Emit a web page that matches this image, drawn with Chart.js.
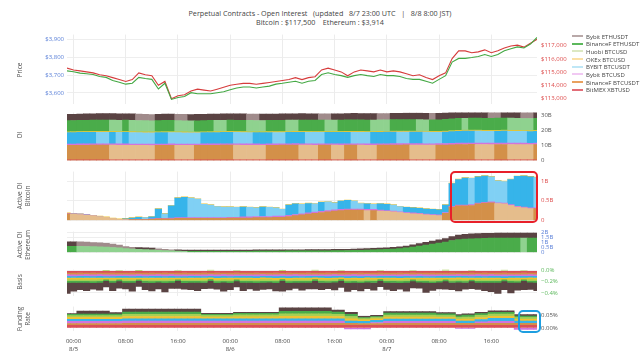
<!DOCTYPE html>
<html><head><meta charset="utf-8">
<script src="https://cdn.jsdelivr.net/npm/chart.js@4.4.1/dist/chart.umd.min.js"></script>
<style>
html,body{margin:0;padding:0;background:#fff;}
body{width:640px;height:360px;position:relative;overflow:hidden;font-family:"Open Sans",sans-serif;color:#444;}
canvas{position:absolute;left:0;}
#title{position:absolute;left:0;top:8.5px;width:640px;text-align:center;font-size:7.2px;line-height:9.3px;white-space:pre;color:#444;}
.yt{position:absolute;transform:translate(-50%,-50%) rotate(-90deg);font-size:6.5px;line-height:8px;text-align:center;white-space:nowrap;color:#555;}
.lg{position:absolute;left:572px;font-size:6px;line-height:7px;height:7px;white-space:nowrap;color:#444;}
.lg i{display:inline-block;width:11px;height:2px;vertical-align:middle;margin-right:3px;position:relative;top:-1px;}
.box{position:absolute;box-sizing:border-box;border-radius:5px;}
</style></head><body>
<div id="title">Perpetual Contracts - Open Interest   (updated   8/7 23:00 UTC   |   8/8 8:00 JST)
Bitcoin : $117,500    Ethereum : $3,914</div>
<canvas id="cPrice"></canvas>
<canvas id="cOI"></canvas>
<canvas id="cAB"></canvas>
<canvas id="cAE"></canvas>
<canvas id="cBasis"></canvas>
<canvas id="cFund"></canvas>
<div class="yt" style="left:20px;top:70px">Price</div>
<div class="yt" style="left:20px;top:135px">OI</div>
<div class="yt" style="left:24px;top:196px">Active OI<br>Bitcoin</div>
<div class="yt" style="left:24px;top:245px">Active OI<br>Ethereum</div>
<div class="yt" style="left:20px;top:282px">Basis</div>
<div class="yt" style="left:24px;top:319px">Funding<br>Rate</div>
<div id="legend"></div>
<div class="box" style="left:450px;top:170.5px;width:88px;height:52px;border:2px solid #e8202a"></div>
<div class="box" style="left:518px;top:309.5px;width:23px;height:23px;border:2px solid #1e9ee0"></div>
<script>
// ---- categories: hours from 8/5 00:00 UTC (8/4 23:00 .. 8/7 23:00) ----
const hours = Array.from({length:73},(_,i)=>i-1);
const xTickHours = [0,8,16,24,32,40,48,56,64];
const dayLabels = ['8/5','8/6','8/7'];

const seriesNames = ['Bybit ETHUSDT','BinanceF ETHUSDT','Huobi BTCUSD','OKEx BTCUSD','BYBIT BTCUSDT','Bybit BTCUSD','BinanceF BTCUSDT','BitMEX XBTUSD'];

// ---- price ----
const btcPrice = [
115300,115160,115090,115015,114940,114800,114720,114580,114430,114290,
114430,114940,114800,114720,114000,114290,112980,113200,113270,113560,
113700,113630,113560,113700,113850,114000,114070,114140,114140,114070,
114140,114210,114290,114360,114430,114580,114430,114580,114650,115160,
115300,115160,115015,114720,115015,115160,115090,115015,115160,115015,
115090,115015,114870,114720,114800,114580,114430,114720,114940,116030,
116615,116615,116470,116540,116690,116470,116615,116830,116980,117050,
116900,117200,117490];
const ethPrice = [
3724,3719,3711,3708,3703,3692,3687,3670,3660,3649,
3654,3687,3681,3676,3622,3654,3563,3574,3579,3601,
3595,3595,3595,3601,3606,3617,3627,3633,3633,3627,
3633,3638,3649,3654,3660,3665,3654,3665,3670,3703,
3713,3703,3697,3687,3697,3703,3697,3692,3703,3697,
3697,3692,3681,3676,3676,3665,3654,3676,3697,3773,
3794,3794,3799,3805,3816,3805,3816,3837,3848,3859,
3853,3875,3912];
const ethPriceTicks = [3600,3700,3800,3900];
const btcPriceTicks = [113000,114000,115000,116000,117000];

// ---- open interest (B USD) ----
const oiBitmex = [
0.20,0.20,0.20,0.20,0.20,0.20,0.20,0.20,0.20,0.20,
0.20,0.20,0.20,0.20,0.20,0.20,0.20,0.20,0.20,0.20,
0.20,0.20,0.20,0.20,0.20,0.20,0.20,0.20,0.20,0.20,
0.20,0.20,0.20,0.20,0.20,0.20,0.20,0.20,0.20,0.20,
0.20,0.20,0.20,0.20,0.20,0.20,0.20,0.20,0.20,0.20,
0.20,0.20,0.20,0.20,0.20,0.20,0.20,0.20,0.20,0.20,
0.20,0.20,0.20,0.20,0.20,0.20,0.20,0.20,0.20,0.20,
0.20,0.20,0.20];
const oiBinanceBtc = [
9.80,9.84,9.88,9.91,9.95,9.98,10.02,9.98,9.93,9.90,
9.86,9.83,9.80,9.76,9.80,9.85,9.90,9.86,9.82,9.79,
9.83,9.87,9.90,9.94,9.97,10.01,9.97,9.94,9.90,9.87,
9.83,9.87,9.91,9.95,9.98,10.02,9.99,9.95,9.92,9.96,
10.00,9.97,9.93,9.97,10.01,9.98,9.94,9.91,9.95,9.99,
10.03,10.07,10.11,10.07,10.03,10.00,9.96,10.00,10.10,10.25,
10.35,10.42,10.48,10.44,10.40,10.36,10.40,10.44,10.40,10.36,
10.32,10.28,10.32];
const oiBybitUsd = [
0.90,0.90,0.91,0.91,0.92,0.92,0.91,0.91,0.90,0.90,
0.89,0.89,0.88,0.89,0.90,0.90,0.89,0.88,0.88,0.89,
0.90,0.91,0.91,0.92,0.92,0.91,0.90,0.90,0.91,0.91,
0.92,0.92,0.91,0.91,0.92,0.93,0.92,0.92,0.93,0.93,
0.92,0.91,0.91,0.92,0.93,0.92,0.92,0.93,0.93,0.94,
0.94,0.93,0.93,0.92,0.92,0.93,0.94,0.95,0.96,0.96,
0.97,0.97,0.96,0.96,0.95,0.96,0.97,0.96,0.95,0.95,
0.96,0.96,0.96];
const oiBybitUsdt = [
7.60,7.63,7.66,7.69,7.72,7.69,7.66,7.69,7.66,7.69,
7.66,7.63,7.60,7.57,7.60,7.63,7.60,7.57,7.54,7.51,
7.48,7.51,7.54,7.57,7.60,7.63,7.60,7.57,7.54,7.57,
7.60,7.63,7.60,7.57,7.60,7.63,7.66,7.63,7.60,7.57,
7.60,7.63,7.66,7.69,7.66,7.63,7.60,7.63,7.66,7.69,
7.72,7.69,7.66,7.69,7.72,7.69,7.66,7.63,7.70,7.80,
7.88,7.92,7.96,7.93,7.90,7.87,7.90,7.93,7.90,7.87,
7.84,7.87,7.90];
const oiOkex = [
0.40,0.40,0.41,0.41,0.41,0.40,0.40,0.40,0.39,0.39,
0.39,0.39,0.40,0.40,0.40,0.40,0.39,0.39,0.39,0.40,
0.40,0.40,0.41,0.41,0.41,0.41,0.40,0.40,0.40,0.40,
0.41,0.41,0.41,0.41,0.41,0.42,0.42,0.42,0.42,0.42,
0.42,0.42,0.42,0.42,0.43,0.43,0.43,0.43,0.43,0.43,
0.43,0.43,0.43,0.43,0.43,0.43,0.43,0.43,0.44,0.44,
0.44,0.45,0.45,0.45,0.45,0.45,0.45,0.45,0.45,0.45,
0.45,0.45,0.45];
const oiHuobi = [
0.20,0.20,0.20,0.20,0.20,0.20,0.20,0.20,0.20,0.20,
0.20,0.20,0.20,0.20,0.20,0.20,0.20,0.20,0.20,0.20,
0.20,0.20,0.20,0.20,0.20,0.20,0.20,0.20,0.20,0.20,
0.20,0.20,0.20,0.20,0.20,0.20,0.20,0.20,0.20,0.20,
0.20,0.20,0.20,0.20,0.20,0.20,0.20,0.20,0.20,0.20,
0.20,0.20,0.20,0.20,0.20,0.20,0.20,0.20,0.20,0.20,
0.20,0.20,0.20,0.20,0.20,0.20,0.20,0.20,0.20,0.20,
0.20,0.20,0.20];
const oiBinanceEth = [
7.40,7.43,7.46,7.49,7.52,7.55,7.58,7.55,7.52,7.55,
7.52,7.49,7.46,7.43,7.46,7.49,7.52,7.49,7.46,7.43,
7.46,7.49,7.52,7.49,7.46,7.49,7.52,7.55,7.52,7.49,
7.46,7.49,7.52,7.55,7.52,7.49,7.52,7.55,7.58,7.61,
7.58,7.55,7.58,7.61,7.64,7.67,7.70,7.67,7.64,7.61,
7.64,7.67,7.70,7.73,7.70,7.67,7.70,7.73,7.80,7.90,
7.96,7.93,7.96,7.99,8.02,8.05,8.08,8.11,8.08,8.05,
8.02,7.99,8.02];
const oiBybitEth = [
4.20,4.21,4.22,4.23,4.24,4.25,4.26,4.27,4.28,4.29,
4.30,4.27,4.24,4.21,4.22,4.23,4.24,4.21,4.18,4.19,
4.20,4.21,4.22,4.23,4.24,4.25,4.26,4.27,4.24,4.21,
4.22,4.23,4.24,4.25,4.26,4.27,4.28,4.29,4.30,4.27,
4.24,4.25,4.26,4.27,4.28,4.29,4.30,4.31,4.28,4.25,
4.26,4.27,4.28,4.29,4.30,4.31,4.28,4.29,4.32,4.36,
4.40,4.42,4.44,4.46,4.48,4.45,4.42,4.44,4.46,4.48,
4.45,4.42,4.44];
const oiTicks = [0,10,20,30];

// ---- active OI bitcoin (B USD) ----
const actBinanceBtc = [
.17,.16,.15,.13,.12,.10,.08,.05,.03,.02,
.02,.02,.02,.03,.04,.04,.04,.05,.05,.05,
.05,.05,.05,.05,.05,.06,.06,.06,.06,.07,
.07,.07,.08,.08,.10,.12,.14,.16,.18,.20,
.22,.24,.25,.26,.26,.26,.25,.25,.24,.23,
.22,.20,.18,.17,.16,.14,.13,.12,.18,.34,
.37,.37,.38,.42,.44,.45,.43,.42,.38,.34,
.32,.30,.30];
const actBybitUsd = [
.01,.01,.01,.01,.00,.00,.00,.00,.00,.00,
.00,.01,.01,.01,.01,.01,.02,.02,.02,.02,
.02,.02,.02,.02,.02,.02,.02,.03,.03,.03,
.03,.03,.03,.03,.03,.03,.03,.03,.03,.03,
.03,.03,.03,.03,.03,.03,.03,.03,.02,.02,
.02,.02,.02,.02,.02,.02,.02,.02,.02,.02,
.02,.02,.02,.02,.02,.02,.02,.02,.02,.02,
.02,.02,.02];
const actBybitUsdt = [
.00,.00,.00,.00,.00,.00,.00,.00,.00,.02,
.04,.05,.04,.05,.24,.12,.31,.50,.52,.50,
.47,.34,.32,.28,.27,.26,.25,.25,.24,.22,
.24,.23,.21,.17,.26,.27,.24,.24,.21,.23,
.22,.18,.21,.22,.20,.14,.14,.13,.16,.16,
.15,.13,.13,.13,.13,.13,.13,.13,.19,.58,
.65,.69,.67,.67,.67,.64,.56,.55,.64,.76,
.79,.79,.77];
const actOkex = [
.01,.01,.01,.01,.01,.01,.01,.01,.01,.01,
.01,.01,.01,.01,.01,.01,.01,.01,.01,.01,
.01,.01,.01,.01,.01,.01,.01,.01,.01,.01,
.01,.01,.01,.01,.01,.01,.01,.01,.01,.01,
.01,.01,.01,.01,.01,.01,.01,.01,.01,.01,
.01,.01,.01,.01,.01,.01,.01,.01,.01,.01,
.01,.01,.01,.01,.01,.01,.01,.01,.01,.01,
.01,.01,.01];
const actBtcTicks = [0,0.5,1];

// ---- active OI ethereum (B USD) ----
const actBinanceEth = [
.62,.62,.61,.60,.58,.56,.54,.50,.45,.38,
.33,.30,.28,.25,.22,.18,.15,.13,.12,.12,
.12,.12,.12,.12,.12,.12,.12,.12,.12,.13,
.13,.14,.14,.14,.15,.15,.15,.16,.16,.17,
.17,.18,.18,.19,.20,.22,.24,.26,.28,.30,
.33,.38,.45,.55,.65,.75,.85,.95,1.05,1.20,
1.30,1.35,1.38,1.40,1.42,1.44,1.45,1.45,1.46,1.46,
1.45,1.45,1.46];
const actBybitEth = [
.46,.46,.45,.44,.42,.40,.38,.35,.30,.20,
.18,.18,.18,.18,.15,.14,.12,.12,.12,.12,
.12,.12,.12,.12,.12,.12,.12,.12,.12,.12,
.12,.12,.12,.12,.12,.12,.12,.12,.12,.12,
.12,.13,.13,.13,.14,.14,.15,.15,.16,.17,
.18,.19,.20,.22,.25,.28,.30,.33,.36,.40,
.45,.48,.50,.50,.50,.50,.50,.50,.50,.50,
.50,.50,.50];
const actEthTicks = [0,0.5,1,1.5,2];

// ---- basis (%) ----
const basisBitmex = [
-.030,-.029,-.031,-.030,-.032,-.029,-.030,-.031,-.030,-.029,
-.031,-.030,-.029,-.032,-.030,-.031,-.029,-.030,-.031,-.030,
-.029,-.031,-.030,-.032,-.029,-.030,-.031,-.030,-.029,-.031,
-.030,-.029,-.032,-.030,-.031,-.029,-.030,-.031,-.030,-.029,
-.031,-.030,-.029,-.032,-.030,-.031,-.029,-.030,-.031,-.030,
-.029,-.031,-.030,-.032,-.029,-.030,-.031,-.030,-.029,-.031,
-.030,-.029,-.032,-.030,-.031,-.029,-.030,-.031,-.030,-.029,
-.031,-.030,-.029];
const basisBinanceBtc = [
-.029,-.031,-.030,-.029,-.031,-.030,-.032,-.029,-.030,-.031,
-.030,-.029,-.031,-.030,-.029,-.032,-.030,-.031,-.029,-.030,
-.031,-.030,-.029,-.031,-.030,-.032,-.029,-.030,-.031,-.030,
-.029,-.031,-.030,-.029,-.032,-.030,-.031,-.029,-.030,-.031,
-.030,-.029,-.031,-.030,-.029,-.032,-.030,-.031,-.029,-.030,
-.031,-.030,-.029,-.031,-.030,-.032,-.029,-.030,-.031,-.030,
-.029,-.031,-.030,-.029,-.032,-.030,-.031,-.029,-.030,-.031,
-.030,-.029,-.031];
const basisBybitUsd = [
-.030,-.032,-.029,-.031,-.030,-.029,-.031,-.032,-.030,-.029,
-.031,-.030,-.032,-.029,-.031,-.030,-.029,-.031,-.032,-.030,
-.029,-.031,-.030,-.032,-.029,-.031,-.030,-.029,-.031,-.032,
-.030,-.029,-.031,-.030,-.032,-.029,-.031,-.030,-.029,-.031,
-.032,-.030,-.029,-.031,-.030,-.032,-.029,-.031,-.030,-.029,
-.031,-.032,-.030,-.029,-.031,-.030,-.032,-.029,-.031,-.030,
-.029,-.031,-.032,-.030,-.029,-.031,-.030,-.032,-.029,-.031,
-.030,-.029,-.031];
const basisBybitUsdt = [
-.031,-.030,-.029,-.032,-.030,-.031,-.029,-.030,-.031,-.030,
-.029,-.032,-.030,-.031,-.029,-.030,-.031,-.030,-.029,-.032,
-.030,-.031,-.029,-.030,-.031,-.030,-.029,-.032,-.030,-.031,
-.029,-.030,-.031,-.030,-.029,-.032,-.030,-.031,-.029,-.030,
-.031,-.030,-.029,-.032,-.030,-.031,-.029,-.030,-.031,-.030,
-.029,-.032,-.030,-.031,-.029,-.030,-.031,-.030,-.029,-.032,
-.030,-.031,-.029,-.030,-.031,-.030,-.029,-.032,-.030,-.031,
-.029,-.030,-.031];
const basisOkex = [
-.030,-.031,-.032,-.029,-.030,-.031,-.030,-.029,-.032,-.030,
-.031,-.030,-.029,-.031,-.032,-.030,-.029,-.031,-.030,-.029,
-.032,-.030,-.031,-.030,-.029,-.031,-.032,-.030,-.029,-.031,
-.030,-.029,-.032,-.030,-.031,-.030,-.029,-.031,-.032,-.030,
-.029,-.031,-.030,-.029,-.032,-.030,-.031,-.030,-.029,-.031,
-.032,-.030,-.029,-.031,-.030,-.029,-.032,-.030,-.031,-.030,
-.029,-.031,-.032,-.030,-.029,-.031,-.030,-.029,-.032,-.030,
-.031,-.030,-.029];
const basisHuobi = [
-.030,-.029,-.031,-.030,-.032,-.029,.008,-.030,.010,-.031,
-.029,.008,-.030,-.031,-.029,-.030,-.032,.010,-.031,-.030,
-.029,-.031,.012,-.029,-.030,-.031,.010,-.030,-.029,-.031,
-.032,-.030,-.029,.008,-.030,-.031,-.029,-.030,.012,-.031,
-.030,-.029,.010,-.031,-.030,-.032,-.029,-.030,.010,-.031,
-.029,-.030,-.031,.010,-.029,-.030,-.032,-.031,.015,-.030,
-.029,-.031,.010,-.030,-.029,-.031,-.030,.012,-.029,-.031,
.010,-.030,-.029];
const basisBinanceEth = [
-.031,-.030,-.029,-.031,-.030,-.032,-.029,-.030,-.031,-.030,
-.029,-.031,-.032,-.030,-.029,-.031,-.030,-.029,-.032,-.030,
-.031,-.029,-.030,-.031,-.030,-.029,-.032,-.030,-.031,-.029,
-.030,-.031,-.030,-.029,-.032,-.030,-.031,-.029,-.030,-.031,
-.030,-.029,-.032,-.030,-.031,-.029,-.030,-.031,-.030,-.029,
-.032,-.030,-.031,-.029,-.030,-.031,-.030,-.029,-.032,-.030,
-.031,-.029,-.030,-.031,-.030,-.029,-.032,-.030,-.031,-.029,
-.030,-.031,-.030];
const basisBybitEth = [
-.20,-.16,-.13,-.15,-.12,-.14,-.11,-.15,-.13,-.12,
-.16,-.10,-.13,-.15,-.12,-.17,-.11,-.14,-.12,-.13,
-.15,-.11,-.14,-.12,-.16,-.13,-.11,-.15,-.12,-.14,
-.13,-.12,-.15,-.19,-.13,-.11,-.14,-.12,-.15,-.13,
-.11,-.14,-.12,-.16,-.13,-.15,-.12,-.14,-.11,-.13,
-.15,-.12,-.16,-.13,-.11,-.18,-.14,-.12,-.15,-.13,
-.16,-.12,-.14,-.13,-.15,-.17,-.20,-.16,-.19,-.14,
-.16,-.13,-.15];
const basisTicks = [0,-0.2,-0.4];

// ---- funding rate (%) ----
const fundBitmex = [
.010,.010, .010,.010,.010,.010,.010, .010,.010,
.010,.010,.010,.010,.010,.010,.010,.010,.010,.010,.010,.010,
.010,.010,.010,.010,.010, .010,.010,.010,.010,.010,.010,.010,
.010,.010,.010,.010,.010,.010,.010,.010, .010,.010,.010,.010,
.010,.010,.010,.010, .010,.010,.010,.010,.010,.010,.010,.010,
.010,.010,.010,.010, .010,.010,.010,.010, .010,.010,.010,.010,
.010,.010,.010,.010];
const fundBinanceBtc = [
.0075,.0075, .0075,.0075,.0075,.0075,.0075, .0075,.0075,
.0085,.0085,.0085,.0085,.0085,.0085,.0085,.0085,.0085,.0085,.0085,.0085,
.0085,.0085,.0085,.0085,.0085, .0085,.0085,.0085,.0085,.0085,.0085,.0085,
.0085,.0085,.0085,.0085,.0085,.0085,.0085,.0085, .0085,.0085,.0085,.0085,
.0075,.0075,.0075,.0075, .0085,.0085,.0085,.0085,.0085,.0085,.0085,.0085,
.0085,.0085,.0085,.0085, .0085,.0085,.0085,.0085, .0085,.0085,.0085,.0085,
.0085,.0085,.0085,.0085];
const fundBybitUsd = [
.0085,.0085, .0085,.0085,.0085,.0085,.0085, .0085,.0085,
.009,.009,.009,.009,.009,.009,.009,.009,.009,.009,.009,.009,
.009,.009,.009,.009,.009, .009,.009,.009,.009,.009,.009,.009,
.009,.009,.009,.009,.009,.009,.009,.009, .009,.009,-.004,-.004,
-.004,-.004,.004,.004, .008,.008,.008,.008,.008,.008,.008,.008,
.008,.008,.008,-.002, -.002,-.002,.006,.006, .008,.008,.008,.008,
-.006,-.006,-.006,-.006];
const fundBybitUsdt = [
.008,.008, .008,.008,.008,.008,.008, .008,.008,
.0087,.0087,.0087,.0087,.0087,.0087,.0087,.0087,.0087,.0087,.0087,.0087,
.0087,.0087,.0087,.0087,.0087, .0087,.0087,.0087,.0087,.0087,.0087,.0087,
.0087,.0087,.0087,.0087,.0087,.0087,.0087,.0087, .0087,.0087,.0087,.0087,
.0087,.0087,.0087,.0087, .0087,.0087,.0087,.0087,.0087,.0087,.0087,.0087,
.0087,.0087,.0087,.0087, .009,.009,.009,.009, .012,.012,.012,.012,
.0087,.0087,.0087,.0087];
const fundOkex = [
.008,.008, .008,.008,.008,.008,.008, .008,.008,
.009,.009,.009,.009,.009,.009,.009,.009,.009,.009,.009,.009,
.007,.007,.007,.007,.007, .008,.008,.008,.008,.008,.008,.008,
.010,.010,.010,.010,.010,.010,.010,.010, .009,.009,.009,.009,
.006,.006,.006,.006, .008,.008,.008,.008,.008,.008,.008,.008,
.007,.007,.007,.007, .008,.008,.008,.008, .008,.008,.008,.008,
.007,.007,.007,.007];
const fundHuobi = [
.007,.007, .007,.007,.007,.007,.007, .007,.007,
.009,.009,.009,.009,.009,.009,.009,.009,.009,.009,.009,.009,
.006,.006,.006,.006,.006, .008,.008,.008,.008,.008,.008,.008,
.010,.010,.010,.010,.010,.010,.010,.010, .009,.009,.009,.009,
.005,.005,.005,.005, .008,.008,.008,.008,.008,.008,.008,.008,
.007,.007,.007,.007, .008,.008,.008,.008, .008,.008,.008,.008,
.007,.007,.007,.007];
const fundBinanceEth = [
.005,.005, .006,.006,.006,.006,.006, .006,.006,
.009,.009,.009,.009,.009,.009,.009,.009,.009,.009,.009,.009,
.005,.005,.005,.005,.005, .006,.006,.006,.006,.006,.006,.006,
.010,.010,.010,.010,.010,.010,.010,.010, .009,.009,.009,.009,
.004,.004,.004,.004, .008,.008,.008,.008,.008,.008,.008,.008,
.007,.007,.007,.007, .007,.007,.007,.007, .007,.007,.007,.007,
.006,.006,.006,.006];
const fundBybitEth = [
.003,.003, .012,.012,.012,.012,.012, .006,.006,
.012,.012,.012,.012,.012,.012,.012,.012,.012,.012,.012,.012,
.004,.004,.004,.004,.004, .004,.004,.004,.004,.004,.004,.004,
.014,.014,.014,.014,.014,.014,.014,.014, .008,.008,.008,.008,
.005,.005,.005,.005, .006,.006,.006,.006,.006,.006,.006,.006,
.005,.005,.005,.005, .005,.005,.005,.005, .006,.006,.006,.006,
.006,.006,.006,.006];
const fundTicks = [0,0.05];

// ---------------- drawing ----------------
const FONT = '"Open Sans", sans-serif';
const PLOT_L = 67, RIGHT_W = 103;
const C = {
  bybitEth:['#5a4343','#a08b8b'], binanceEth:['#4aac4a','#8fd28f'], huobi:['#a6cf55','#c9e29a'],
  okex:['#f0c233','#f6d87a'], bybitUsdt:['#36b4ea','#80d0f4'], bybitUsd:['#d274dc','#e6a8ec'],
  binanceBtc:['#d39049','#e5bd8c'], bitmex:['#db4f57','#e98a90']
};
const legendColors = ['#b9a9a9','#5cb85c','#dce8c2','#fbe0a6','#bfe7f6','#f1c9f3','#e9a15f','#e26d78'];

function pts(arr){ return hours.map((h,i)=>({x:h,y:arr[i]})); }
function shade(arr, col){ return ctx => { const i = ctx.dataIndex; return (i>0 && arr[i] < arr[i-1]) ? col[1] : col[0]; }; }
function barDs(label, arr, col, shaded){
  return {type:'bar', label, data:pts(arr), backgroundColor: shaded ? shade(arr,col) : col[0],
          borderWidth:0, barPercentage:1, categoryPercentage:1};
}
function yAxis(pos, min, max, ticks, color, fmt, grid){
  return {position:pos, min, max, stacked:true,
    afterFit: a => { a.width = pos==='left' ? PLOT_L : RIGHT_W; },
    afterBuildTicks: a => { a.ticks = ticks.map(v=>({value:v})); },
    ticks:{autoSkip:false, color, padding: pos==='left'?3:4, font:{size:6, family:FONT}, callback:fmt},
    grid:{display:grid!==false, color:'#eeeeee', drawTicks:false}, border:{display:false}};
}
function xAxis(showTicks){
  return {type:'linear', min:-1, max:71, offset:false, stacked:true,
    afterBuildTicks: a => { a.ticks = xTickHours.map(v=>({value:v})); },
    afterFit: a => { a.height = showTicks ? 24 : 0; },
    ticks:{display:showTicks, autoSkip:false, maxRotation:0, color:'#444', padding:7, font:{size:6, family:FONT},
      callback: v => { const m = v % 24; return m===0 ? ['00:00', dayLabels[v/24]] : (m===8 ? '08:00' : '16:00'); }},
    grid:{color:'#ececec', drawTicks:false, offset:false}, border:{display:false}};
}
function panel(id, plotTop, plotBottom, datasets, scales, leftAxis, showX){
  const pad = 6, extra = showX ? 24 : 0;
  const cv = document.getElementById(id);
  cv.width = 640; cv.height = Math.round(plotBottom - plotTop + 2*pad + extra);
  cv.style.top = (plotTop - pad) + 'px';
  scales.x = xAxis(showX);
  return new Chart(cv, {data:{datasets}, options:{
    responsive:false, animation:false, events:[],
    layout:{padding:{top:pad, bottom:pad, left: leftAxis ? 0 : PLOT_L, right:0}},
    plugins:{legend:{display:false}, tooltip:{enabled:false}},
    scales}});
}
const fmtB = v => v===0 ? '0' : v + 'B';

// Price
panel('cPrice', 33, 106, [
  {type:'line', label:'ETH', data:pts(ethPrice), yAxisID:'yEth', borderColor:'#43a843', borderWidth:1.1, pointRadius:0, tension:0},
  {type:'line', label:'BTC', data:pts(btcPrice), yAxisID:'yBtc', borderColor:'#d63c3c', borderWidth:1.1, pointRadius:0, tension:0}
], {
  yEth: Object.assign(yAxis('left', 3535, 3928, ethPriceTicks, '#5b80d8', v=>'$'+v.toLocaleString('en-US')), {stacked:false}),
  yBtc: Object.assign(yAxis('right', 112542, 117851, btcPriceTicks, '#dd4b4b', v=>'$'+v.toLocaleString('en-US'), false), {stacked:false})
}, true, false);

// OI
panel('cOI', 111, 162, [
  barDs('BitMEX XBTUSD', oiBitmex, C.bitmex, false),
  barDs('BinanceF BTCUSDT', oiBinanceBtc, C.binanceBtc, true),
  barDs('Bybit BTCUSD', oiBybitUsd, C.bybitUsd, false),
  barDs('BYBIT BTCUSDT', oiBybitUsdt, C.bybitUsdt, true),
  barDs('OKEx BTCUSD', oiOkex, C.okex, false),
  barDs('Huobi BTCUSD', oiHuobi, C.huobi, false),
  barDs('BinanceF ETHUSDT', oiBinanceEth, C.binanceEth, true),
  barDs('Bybit ETHUSDT', oiBybitEth, C.bybitEth, true)
], {y: yAxis('right', 0, 31.9, oiTicks, '#555', fmtB)}, false, false);

// Active OI Bitcoin
panel('cAB', 170, 222.3, [
  barDs('BinanceF BTCUSDT', actBinanceBtc, C.binanceBtc, true),
  barDs('Bybit BTCUSD', actBybitUsd, C.bybitUsd, false),
  barDs('BYBIT BTCUSDT', actBybitUsdt, C.bybitUsdt, true),
  barDs('OKEx BTCUSD', actOkex, C.okex, false)
], {y: yAxis('right', 0, 1.242, actBtcTicks, '#dd4b4b', fmtB)}, false, false);

// Active OI Ethereum
panel('cAE', 230, 254, [
  barDs('BinanceF ETHUSDT', actBinanceEth, C.binanceEth, true),
  barDs('Bybit ETHUSDT', actBybitEth, C.bybitEth, true)
], {y: yAxis('right', 0, 2.105, actEthTicks, '#5b80d8', fmtB)}, false, false);

// Basis
panel('cBasis', 268, 298, [
  barDs('BitMEX XBTUSD', basisBitmex, C.bitmex, false),
  barDs('BinanceF BTCUSDT', basisBinanceBtc, C.binanceBtc, false),
  barDs('Bybit BTCUSD', basisBybitUsd, C.bybitUsd, false),
  barDs('BYBIT BTCUSDT', basisBybitUsdt, C.bybitUsdt, false),
  barDs('OKEx BTCUSD', basisOkex, C.okex, false),
  barDs('Huobi BTCUSD', basisHuobi, C.huobi, false),
  barDs('BinanceF ETHUSDT', basisBinanceEth, C.binanceEth, false),
  barDs('Bybit ETHUSDT', basisBybitEth, C.bybitEth, false)
], {y: yAxis('right', -0.465, 0.021, basisTicks, '#5cb85c', v => (v<0?'\u2212':'') + Math.abs(v).toFixed(1)+'%')}, false, false);

// Funding rate
panel('cFund', 305, 331, [
  barDs('BitMEX XBTUSD', fundBitmex, C.bitmex, false),
  barDs('BinanceF BTCUSDT', fundBinanceBtc, C.binanceBtc, false),
  barDs('Bybit BTCUSD', fundBybitUsd, C.bybitUsd, false),
  barDs('BYBIT BTCUSDT', fundBybitUsdt, C.bybitUsdt, false),
  barDs('OKEx BTCUSD', fundOkex, C.okex, false),
  barDs('Huobi BTCUSD', fundHuobi, C.huobi, false),
  barDs('BinanceF ETHUSDT', fundBinanceEth, C.binanceEth, false),
  barDs('Bybit ETHUSDT', fundBybitEth, C.bybitEth, false)
], {y: yAxis('right', -0.0123, 0.0847, fundTicks, '#555', v => v.toFixed(2)+'%')}, false, true);

// Legend
const lg = document.getElementById('legend');
seriesNames.forEach((n,k)=>{
  const d = document.createElement('div');
  d.className = 'lg'; d.style.top = (33.8 + k*7.63) + 'px';
  d.innerHTML = '<i style="background:'+legendColors[k]+'"></i>' + n;
  lg.appendChild(d);
});
</script>
</body></html>
